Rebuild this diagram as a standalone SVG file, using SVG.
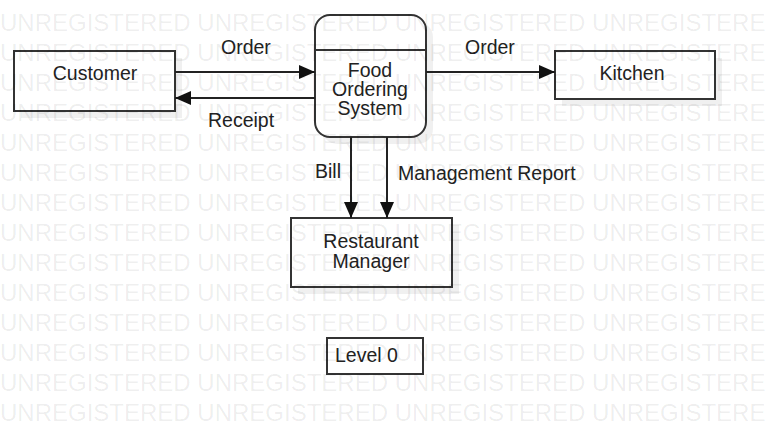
<svg xmlns="http://www.w3.org/2000/svg" width="774" height="435" viewBox="0 0 774 435">
<defs>
<marker id="arr" viewBox="0 0 16 14" refX="16" refY="7" markerWidth="16" markerHeight="14" markerUnits="userSpaceOnUse" orient="auto">
<path d="M0,0 L16,7 L0,14 Z" fill="#111"/>
</marker>
</defs>
<style>
.box{fill:#fff;stroke:#333;stroke-width:2}
.sh{fill:#000;fill-opacity:0.06}
.t{font-family:"Liberation Sans",Arial,sans-serif;font-size:19.5px;fill:#222;text-anchor:middle}
.l{font-family:"Liberation Sans",Arial,sans-serif;font-size:19.5px;fill:#222}
.c{fill:none;stroke:#222;stroke-width:2;marker-end:url(#arr)}
.wm{font-family:"Liberation Sans",Arial,sans-serif;font-size:24px;fill:#000;fill-opacity:0.075}
</style>
<rect width="774" height="435" fill="#fff"/>
<g id="customer">
<rect class="sh" x="21" y="58" width="161" height="60"/>
<rect class="box" x="14" y="51" width="161" height="60"/>
<text class="t" x="95" y="80">Customer</text>
</g>
<g id="food-ordering-system">
<rect class="sh" x="322" y="22" width="111" height="122" rx="15"/>
<rect class="box" x="315" y="15" width="111" height="122" rx="15"/>
<line x1="315" y1="50" x2="426" y2="50" stroke="#333" stroke-width="2"/>
<text class="t" x="370" y="77">Food</text>
<text class="t" x="370" y="96">Ordering</text>
<text class="t" x="370" y="115">System</text>
</g>
<g id="kitchen">
<rect class="sh" x="562" y="58" width="160" height="48"/>
<rect class="box" x="555" y="51" width="160" height="48"/>
<text class="t" x="632" y="80">Kitchen</text>
</g>
<g id="restaurant-manager">
<rect class="sh" x="298" y="225" width="161" height="69"/>
<rect class="box" x="291" y="218" width="161" height="69"/>
<text class="t" x="371" y="248">Restaurant</text>
<text class="t" x="371" y="268">Manager</text>
</g>
<g id="level-0">
<rect class="box" x="327" y="338" width="96" height="36"/>
<text class="l" x="335" y="362">Level 0</text>
</g>
<g id="connectors">
<line class="c" x1="175" y1="72" x2="315" y2="72"/>
<text class="l" x="221" y="54">Order</text>
<line class="c" x1="315" y1="98" x2="175" y2="98"/>
<text class="l" x="208" y="127">Receipt</text>
<line class="c" x1="426" y1="72" x2="555" y2="72"/>
<text class="l" x="465" y="54">Order</text>
<line class="c" x1="351" y1="137" x2="351" y2="218"/>
<text class="l" x="315" y="178">Bill</text>
<line class="c" x1="387" y1="137" x2="387" y2="218"/>
<text class="l" x="398" y="180">Management Report</text>
</g>
<g id="watermark" class="wm">
<text x="0" y="31">UNREGISTERED UNREGISTERED UNREGISTERED UNREGISTERE</text>
<text x="0" y="61">UNREGISTERED UNREGISTERED UNREGISTERED UNREGISTERE</text>
<text x="0" y="91">UNREGISTERED UNREGISTERED UNREGISTERED UNREGISTERE</text>
<text x="0" y="121">UNREGISTERED UNREGISTERED UNREGISTERED UNREGISTERE</text>
<text x="0" y="151">UNREGISTERED UNREGISTERED UNREGISTERED UNREGISTERE</text>
<text x="0" y="181">UNREGISTERED UNREGISTERED UNREGISTERED UNREGISTERE</text>
<text x="0" y="211">UNREGISTERED UNREGISTERED UNREGISTERED UNREGISTERE</text>
<text x="0" y="241">UNREGISTERED UNREGISTERED UNREGISTERED UNREGISTERE</text>
<text x="0" y="271">UNREGISTERED UNREGISTERED UNREGISTERED UNREGISTERE</text>
<text x="0" y="301">UNREGISTERED UNREGISTERED UNREGISTERED UNREGISTERE</text>
<text x="0" y="331">UNREGISTERED UNREGISTERED UNREGISTERED UNREGISTERE</text>
<text x="0" y="361">UNREGISTERED UNREGISTERED UNREGISTERED UNREGISTERE</text>
<text x="0" y="391">UNREGISTERED UNREGISTERED UNREGISTERED UNREGISTERE</text>
<text x="0" y="421">UNREGISTERED UNREGISTERED UNREGISTERED UNREGISTERE</text>
</g>
</svg>
